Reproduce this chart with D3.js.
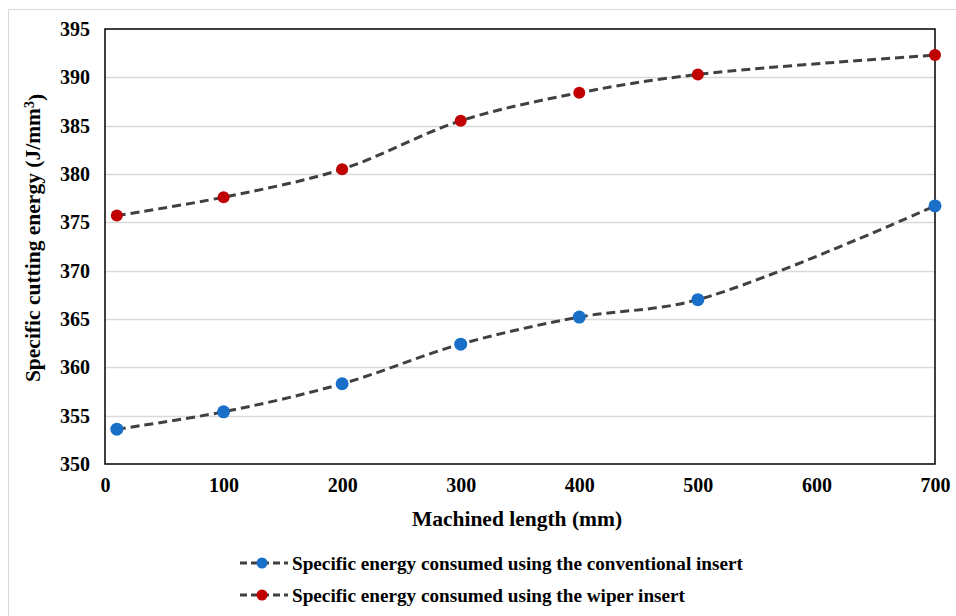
<!DOCTYPE html>
<html>
<head>
<meta charset="utf-8">
<script src="https://cdn.jsdelivr.net/npm/d3@7"></script>
<style>
  body { margin: 0; background: #fff; }
  svg text { font-family: "Times New Roman", "Liberation Serif", Tinos, "DejaVu Serif", serif !important; font-weight: bold; fill: #000; }
</style>
</head>
<body>
<div id="chart"></div>
<script>
// ---- data ----
const lengths = [10, 100, 200, 300, 400, 500, 700];
const conventional = [353.6, 355.4, 358.3, 362.4, 365.2, 367.0, 376.7];
const wiper = [375.7, 377.6, 380.5, 385.5, 388.4, 390.3, 392.3];
const xTicks = [0, 100, 200, 300, 400, 500, 600, 700];
const yTicks = [350, 355, 360, 365, 370, 375, 380, 385, 390, 395];
const seriesNames = [
  "Specific energy consumed using the conventional insert",
  "Specific energy consumed using the wiper insert"
];
const seriesColors = ["#1a6fc9", "#c00000"];

const W = 956, H = 616;
const margin = {top: 29, right: 21, bottom: 152, left: 105};
const width = W - margin.left - margin.right;
const height = H - margin.top - margin.bottom;

const svg = d3.select("#chart").append("svg")
  .attr("width", W).attr("height", H);

// outer frame
svg.append("rect")
  .attr("x", 8.5).attr("y", 9.5)
  .attr("width", W).attr("height", H)
  .attr("fill", "none").attr("stroke", "#d9d9d9");

const g = svg.append("g").attr("transform", `translate(${margin.left},${margin.top})`);

const x = d3.scaleLinear().domain([0, 700]).range([0, width]);
const y = d3.scaleLinear().domain([350, 395]).range([height, 0]);

// gridlines
g.append("g")
  .selectAll("line")
  .data(yTicks.slice(1, -1))
  .enter().append("line")
  .attr("x1", 0).attr("x2", width)
  .attr("y1", d => Math.round(y(d)) + 0.5).attr("y2", d => Math.round(y(d)) + 0.5)
  .attr("stroke", "#d9d9d9").attr("stroke-width", 1.5);

// axes
const xAxis = g.append("g")
  .attr("transform", `translate(0,${height})`)
  .call(d3.axisBottom(x).tickValues(xTicks).tickSize(0).tickPadding(14));
const yAxis = g.append("g")
  .call(d3.axisLeft(y).tickValues(yTicks).tickSize(0).tickPadding(15));
[xAxis, yAxis].forEach(a => {
  a.attr("font-family", null).attr("font-size", null);
  a.select(".domain").remove();
  a.selectAll("text").style("font-size", "20px");
});
xAxis.selectAll("text").attr("dy", "0.68em");

// plot border
g.append("rect")
  .attr("x", 0).attr("y", 0).attr("width", width).attr("height", height)
  .attr("fill", "none").attr("stroke", "#000").attr("stroke-width", 1.5);

// lines + markers
const line = d3.line()
  .x((d, i) => x(lengths[i]))
  .y(d => y(d))
  .curve(d3.curveCatmullRom.alpha(0.5));

[conventional, wiper].forEach((vals, k) => {
  g.append("path")
    .datum(vals)
    .attr("fill", "none")
    .attr("stroke", "#404040")
    .attr("stroke-width", 3)
    .attr("stroke-dasharray", "9,5")
    .attr("d", line);

  g.append("g")
    .selectAll("circle")
    .data(vals)
    .enter().append("circle")
    .attr("cx", (d, i) => x(lengths[i]))
    .attr("cy", d => y(d))
    .attr("r", k === 0 ? 6.5 : 6)
    .attr("fill", seriesColors[k]);
});

// axis titles
svg.append("text")
  .attr("x", 517)
  .attr("y", 526)
  .attr("text-anchor", "middle")
  .style("font-size", "21.5px")
  .text("Machined length (mm)");

const yt = svg.append("text")
  .attr("transform", `translate(40,238) rotate(-90)`)
  .attr("text-anchor", "middle")
  .style("font-size", "21.5px");
yt.append("tspan").text("Specific cutting energy (J/mm");
yt.append("tspan").attr("dy", "-0.45em").style("font-size", "14px").text("3");
yt.append("tspan").attr("dy", "0.45em").text(")");

// legend
const leg = svg.append("g")
  .selectAll("g")
  .data(seriesNames)
  .enter().append("g")
  .attr("transform", (d, i) => `translate(240,${563 + i * 32})`);

leg.append("line")
  .attr("x1", 0).attr("x2", 48).attr("y1", 0).attr("y2", 0)
  .attr("stroke", "#404040").attr("stroke-width", 3)
  .attr("stroke-dasharray", "7,4");
leg.append("circle")
  .attr("cx", 22).attr("cy", 0).attr("r", 5.5)
  .attr("fill", (d, i) => seriesColors[i]);
leg.append("text")
  .attr("x", 52).attr("y", 0).attr("dy", "0.35em")
  .style("font-size", "19.2px")
  .text(d => d);
</script>
</body>
</html>
